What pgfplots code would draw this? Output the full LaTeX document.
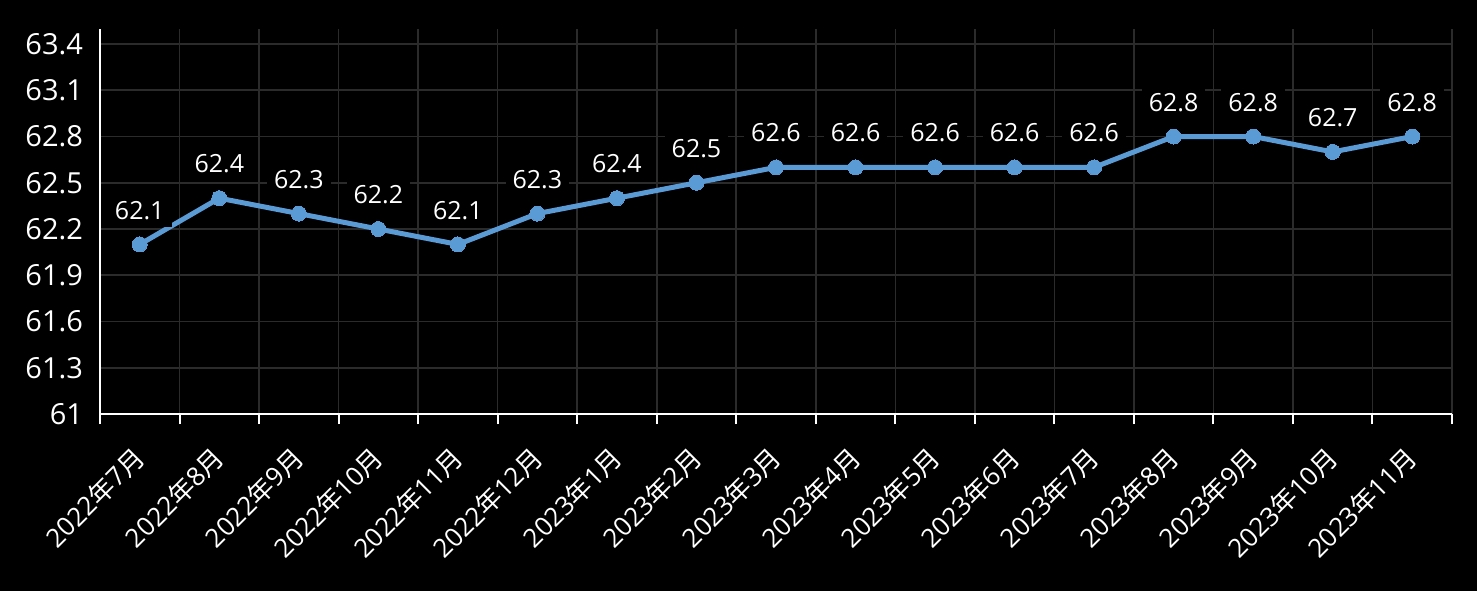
\documentclass[border=0pt]{standalone}
\usepackage{fontspec}
\setmainfont{Open Sans}
\newfontfamily\cjk{Noto Sans CJK SC}
\usepackage{pgfplots}
\pgfplotsset{compat=1.18}
\definecolor{lineblue}{HTML}{5B9BD5}
\definecolor{gridgray}{HTML}{2B2B2B}
\newcommand{\ym}[2]{#1{\cjk 年}#2{\cjk 月}}
\begin{document}
\begin{tikzpicture}
\fill[black] (-50pt,-88.5pt) rectangle (688.5pt,207pt);
\begin{axis}[
    at={(0,0)}, anchor=south west, scale only axis,
    width=676pt, height=192.7pt,
    xmin=-0.5, xmax=16.5, ymin=61, ymax=63.5,
    clip=false,
    axis x line*=bottom, axis y line*=left,
    axis line style={white, line width=1pt},
    xtick={0,...,16},
    xticklabels={\ym{2022}{7},\ym{2022}{8},\ym{2022}{9},\ym{2022}{10},\ym{2022}{11},\ym{2022}{12},
        \ym{2023}{1},\ym{2023}{2},\ym{2023}{3},\ym{2023}{4},\ym{2023}{5},\ym{2023}{6},
        \ym{2023}{7},\ym{2023}{8},\ym{2023}{9},\ym{2023}{10},\ym{2023}{11}},
    minor xtick={-0.5,0.5,...,16.5},
    ytick={61,61.3,61.6,61.9,62.2,62.5,62.8,63.1,63.4},
    yticklabels={61,61.3,61.6,61.9,62.2,62.5,62.8,63.1,63.4},
    major tick length=0pt, minor tick length=5pt,
    tick align=outside,
    tick style={white, line width=1pt},
    xminorgrids=true, ymajorgrids=true,
    grid style={gridgray, line width=0.8pt},
    minor grid style={gridgray, line width=0.8pt},
    major grid style={gridgray, line width=0.8pt},
    ticklabel style={white},
    yticklabel style={font=\fontsize{14.5}{16}\selectfont, xshift=-5pt},
    xticklabel style={font=\fontsize{13}{15}\selectfont, xshift=2.5pt, yshift=-17pt, rotate=45, anchor=east},
    nodes near coords,
    point meta=explicit symbolic,
    every node near coord/.append style={font=\fontsize{12.5}{14}\selectfont, text=white,
        fill=black, inner xsep=3.5pt, inner ysep=4pt, anchor=south, yshift=8.5pt},
]
\addplot[lineblue, line width=2.5pt, mark=*, mark size=3.75pt,
    mark options={fill=lineblue, draw=lineblue, line width=0pt}]
coordinates {
    (0,62.1)[62.1] (1,62.4)[62.4] (2,62.3)[62.3] (3,62.2)[62.2] (4,62.1)[62.1]
    (5,62.3)[62.3] (6,62.4)[62.4] (7,62.5)[62.5] (8,62.6)[62.6] (9,62.6)[62.6]
    (10,62.6)[62.6] (11,62.6)[62.6] (12,62.6)[62.6] (13,62.8)[62.8] (14,62.8)[62.8]
    (15,62.7)[62.7] (16,62.8)[62.8]
};
\end{axis}
\pgfresetboundingbox
\useasboundingbox (-50pt,-88.5pt) rectangle (688.5pt,207pt);
\end{tikzpicture}
\end{document}
